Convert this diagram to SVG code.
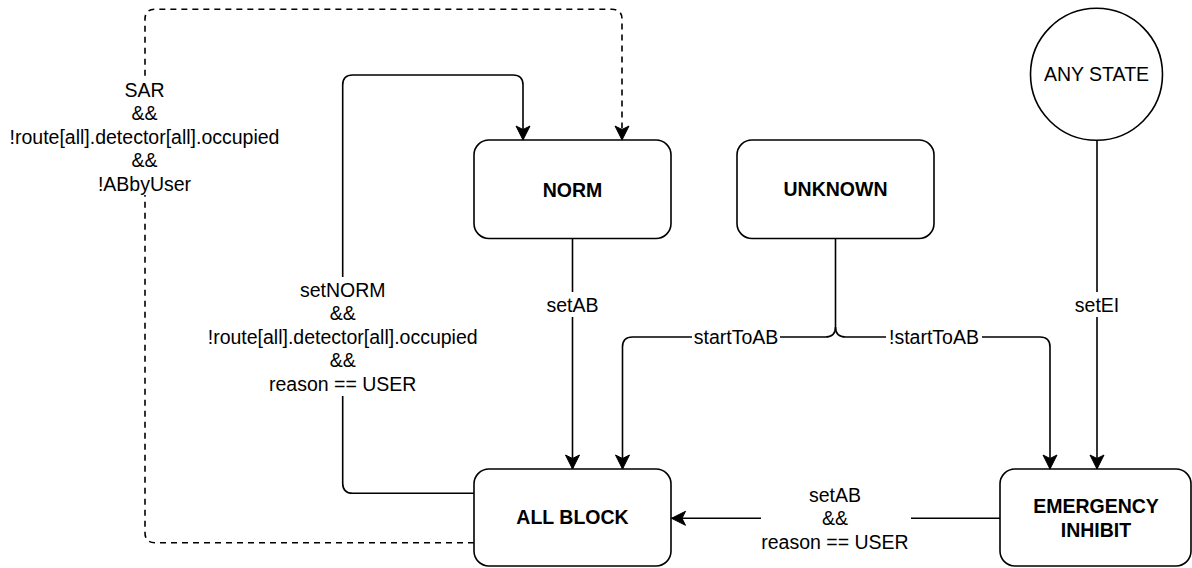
<svg xmlns="http://www.w3.org/2000/svg" width="1192" height="568" viewBox="0 0 1192 568">
  <style>
    .state { fill: #ffffff; stroke: #000000; stroke-width: 1.6; }
    .name { font-family: "Liberation Sans", Arial, sans-serif; font-size: 19.5px; font-weight: bold; fill: #000000; text-anchor: middle; }
    .plain { font-family: "Liberation Sans", Arial, sans-serif; font-size: 19.5px; fill: #000000; text-anchor: middle; }
    .edge { fill: none; stroke: #000000; stroke-width: 1.6; }
    .dashed { stroke-dasharray: 6 5; }
    .bg { fill: #ffffff; stroke: none; }
  </style>
  <defs>
    <marker id="arrow" markerUnits="userSpaceOnUse" markerWidth="16" markerHeight="16" viewBox="-15 -8 16 16" refX="0" refY="0" orient="auto">
      <path d="M0,0 L-14,-7 L-10.5,0 L-14,7 Z" fill="#000000" stroke="#000000" stroke-width="1"/>
    </marker>
  </defs>

  <rect width="1192" height="568" fill="#ffffff"/>

  <g id="connectors">
    <!-- SAR: ALL BLOCK back to NORM (dashed) -->
    <path class="edge dashed" d="M474,542.7 H155 Q145,542.7 145,532.7 V19.3 Q145,9.3 155,9.3 H612 Q622,9.3 622,19.3 V140" marker-end="url(#arrow)"/>
    <!-- setNORM: ALL BLOCK back to NORM -->
    <path class="edge" d="M474,493.3 H352.7 Q342.7,493.3 342.7,483.3 V85 Q342.7,75 352.7,75 H513 Q523,75 523,85 V140" marker-end="url(#arrow)"/>
    <!-- setAB: NORM to ALL BLOCK -->
    <path class="edge" d="M572.5,238.5 V469" marker-end="url(#arrow)"/>
    <!-- UNKNOWN split: startToAB / !startToAB -->
    <path class="edge" d="M835.5,238.5 V327 Q835.5,337 825.5,337 H632.5 Q622.5,337 622.5,347 V469" marker-end="url(#arrow)"/>
    <path class="edge" d="M835.5,327 Q835.5,337 845.5,337 H1040 Q1050,337 1050,347 V469" marker-end="url(#arrow)"/>
    <!-- setEI: ANY STATE to EMERGENCY INHIBIT -->
    <path class="edge" d="M1097,140 V469" marker-end="url(#arrow)"/>
    <!-- setAB && reason == USER: EMERGENCY INHIBIT to ALL BLOCK -->
    <path class="edge" d="M1000,518.3 H671.5" marker-end="url(#arrow)"/>

    <!-- edge labels -->
    <g id="label-sar">
      <rect class="bg" x="7" y="77" width="276" height="118"/>
      <text class="plain" x="144.5" y="97">SAR</text>
      <text class="plain" x="144.5" y="120.4">&amp;&amp;</text>
      <text class="plain" x="144.5" y="143.8">!route[all].detector[all].occupied</text>
      <text class="plain" x="144.5" y="167.2">&amp;&amp;</text>
      <text class="plain" x="144.5" y="190.6">!ABbyUser</text>
    </g>
    <g id="label-setnorm">
      <rect class="bg" x="205" y="277" width="276" height="119"/>
      <text class="plain" x="342.7" y="297">setNORM</text>
      <text class="plain" x="342.7" y="320.4">&amp;&amp;</text>
      <text class="plain" x="342.7" y="343.8">!route[all].detector[all].occupied</text>
      <text class="plain" x="342.7" y="367.2">&amp;&amp;</text>
      <text class="plain" x="342.7" y="390.6">reason == USER</text>
    </g>
    <g id="label-setab">
      <rect class="bg" x="545" y="292" width="55" height="25"/>
      <text class="plain" x="572.5" y="312">setAB</text>
    </g>
    <g id="label-starttoab">
      <rect class="bg" x="692" y="325" width="88" height="24"/>
      <text class="plain" x="736" y="344">startToAB</text>
    </g>
    <g id="label-notstarttoab">
      <rect class="bg" x="886" y="325" width="96" height="24"/>
      <text class="plain" x="934" y="344">!startToAB</text>
    </g>
    <g id="label-setei">
      <rect class="bg" x="1072" y="292" width="50" height="25"/>
      <text class="plain" x="1097" y="312">setEI</text>
    </g>
    <g id="label-setab-user">
      <rect class="bg" x="761" y="482" width="150" height="72"/>
      <text class="plain" x="835" y="502">setAB</text>
      <text class="plain" x="835" y="525.4">&amp;&amp;</text>
      <text class="plain" x="835" y="548.8">reason == USER</text>
    </g>
  </g>

  <g id="node-norm">
    <rect class="state" x="474" y="140" width="197" height="98.5" rx="15" ry="15"/>
    <text class="name" x="572.5" y="197">NORM</text>
  </g>
  <g id="node-unknown">
    <rect class="state" x="737" y="140" width="197" height="98.5" rx="15" ry="15"/>
    <text class="name" x="835.5" y="196">UNKNOWN</text>
  </g>
  <g id="node-any-state">
    <circle class="state" cx="1096.5" cy="74.3" r="66"/>
    <text class="plain" x="1096.5" y="80.5">ANY STATE</text>
  </g>
  <g id="node-all-block">
    <rect class="state" x="474" y="469" width="197" height="97" rx="15" ry="15"/>
    <text class="name" x="572.5" y="524">ALL BLOCK</text>
  </g>
  <g id="node-emergency-inhibit">
    <rect class="state" x="1000" y="469" width="191" height="97" rx="15" ry="15"/>
    <text class="name" x="1096" y="513">EMERGENCY</text>
    <text class="name" x="1096" y="537">INHIBIT</text>
  </g>
</svg>
